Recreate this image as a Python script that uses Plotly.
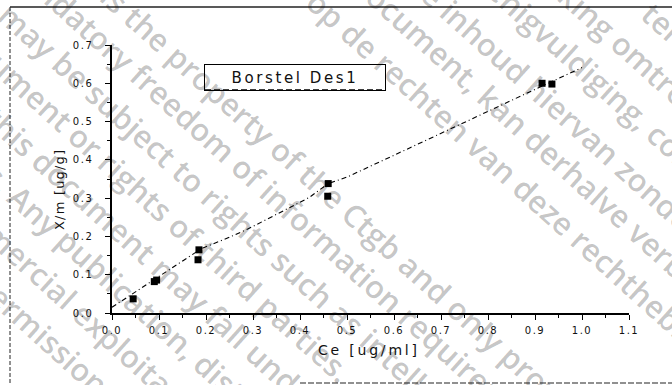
import math
import plotly.graph_objects as go

# ---------------- data ----------------
obs_ce = [0.045, 0.090, 0.095, 0.185, 0.183, 0.460, 0.459, 0.915, 0.936]
obs_xm = [0.037, 0.082, 0.086, 0.165, 0.139, 0.338, 0.305, 0.600, 0.598]

fit_ce = [0.0, 0.05, 0.10, 0.15, 0.19, 0.25, 0.29, 0.36, 0.42, 0.46, 0.50, 0.60, 0.70, 0.80, 0.90, 1.00]
fit_xm = [0.015, 0.055, 0.095, 0.135, 0.168, 0.198, 0.220, 0.264, 0.302, 0.338, 0.355, 0.412, 0.470, 0.527, 0.584, 0.641]

x_ticks = [0.0, 0.1, 0.2, 0.3, 0.4, 0.5, 0.6, 0.7, 0.8, 0.9, 1.0, 1.1]
x_labels = ["0.0", "0.1", "0.2", "0.3", "0.4", "0.5", "0.6", "0.7", "0.8", "0.9", "1.0", "1.1"]
y_ticks = [0.0, 0.1, 0.2, 0.3, 0.4, 0.5, 0.6, 0.7]
y_labels = ["0.0", "0.1", "0.2", "0.3", "0.4", "0.5", "0.6", "0.7"]

series_name = "Borstel Des1"
x_title = "Ce [ug/ml]"
y_title = "X/m [ug/g]"

# watermark lines: (text, line intercept, anchor word, anchor x in px)
wm_lines = [
    ("ter beschikking", -575, "te", 660),
    ("openbaarmaking omtrent", -517, "omtre", 637),
    ("vermenigvuldiging, commerciële exploitatie", -459, "gvuldiging", 577),
    ("van de inhoud hiervan zonder toestemming van de", -395, "hiervan", 582),
    ("dit document, kan derhalve verboden zijn.", -343, "kan", 500),
    ("op de rechten van deze rechthebbende.", -285, "eze", 555),
    ("is the property of the Ctgb and only provided", -105, "Ctgb", 383),
    ("mandatory freedom of information requirements.", -53, "freedom", 179),
    ("may be subject to rights such as intellectual property", 6, "rights", 232),
    ("document or rights of third parties.", 63, "third", 223),
    ("this document may fall under the regulatory data protection regime.", 121, "may", 170),
    ("rights. Any publication, distribution, reproduction and/or", 179, "publication", 125),
    ("commercial exploitation, distribution or use of this document", 237, "cial", 33),
    ("permission of the rightholder.", 295, "ission", 58),
]

# ---------------- layout geometry ----------------
FW, FH = 672, 385
L, R, T, B = 112, 629, 45, 313
W, H = R - L, B - T


def px(x):
    return (x - L) / W


def py(y):
    return (B - y) / H


def spaced(text, sp):
    return '<span style="letter-spacing:%spx">%s</span>' % (sp, text)


fig = go.Figure()

fig.add_trace(go.Scatter(
    x=fit_ce, y=fit_xm, mode="lines",
    line=dict(color="black", width=1.1, dash="5px,3px,1px,3px"),
    showlegend=False, hoverinfo="skip"))

fig.add_trace(go.Scatter(
    x=obs_ce, y=obs_xm, mode="markers", name=series_name,
    marker=dict(symbol="square", size=7, color="black"),
    showlegend=False))

annotations = []

# watermark (each line centred on its own diagonal)
theta = math.radians(42)
c, s = math.cos(theta), math.sin(theta)
wm_size = 31
cw = 15.0
for text, b, word, xa in wm_lines:
    along_a = xa / c
    idx = text.index(word) + len(word) / 2
    t0 = along_a - idx * cw
    tc = t0 + len(text) * cw / 2
    cx, cy = tc * c, b + tc * s
    annotations.append(dict(
        text=text, x=px(cx), y=py(cy), xref="paper", yref="paper",
        xanchor="center", yanchor="middle", textangle=42, showarrow=False,
        font=dict(family="Open Sans", size=wm_size, color="rgba(0,0,0,0.23)", weight=600)))

# legend-like label box
annotations.append(dict(
    text=spaced(series_name, 2.6), x=px(295), y=py(77), xref="paper", yref="paper",
    xanchor="center", yanchor="middle", showarrow=False,
    width=180, height=25, bordercolor="black", borderwidth=1, borderpad=0,
    font=dict(family="DejaVu Sans", size=15, color="#111")))

# axis titles
annotations.append(dict(
    text=spaced(y_title, 1.2), x=px(59), y=py(190), xref="paper", yref="paper",
    xanchor="center", yanchor="middle", textangle=-90, showarrow=False,
    font=dict(family="DejaVu Sans", size=13, color="#111")))
annotations.append(dict(
    text=spaced(x_title, 2.8), x=px(369), y=py(350), xref="paper", yref="paper",
    xanchor="center", yanchor="middle", showarrow=False,
    font=dict(family="DejaVu Sans", size=14, color="#111")))

shapes = [
    # page frame (scan border)
    dict(type="line", xref="paper", yref="paper", x0=px(10), x1=px(672), y0=py(7), y1=py(7),
         line=dict(color="#222", width=1.5)),
    dict(type="line", xref="paper", yref="paper", x0=px(10), x1=px(10), y0=py(7), y1=py(385),
         line=dict(color="#222", width=1, dash="4px,2px")),
    dict(type="line", xref="paper", yref="paper", x0=px(300), x1=px(672), y0=py(383), y1=py(383),
         line=dict(color="#222", width=1.2, dash="6px,2px")),
    # dashed lower edge of label box
    dict(type="line", xref="paper", yref="paper", x0=px(205), x1=px(385), y0=py(90), y1=py(90),
         line=dict(color="black", width=1.5, dash="6px,3px")),
]

axis_common = dict(
    showgrid=False, zeroline=False, showline=True, linecolor="black", linewidth=1.5,
    ticks="outside", ticklen=5, tickwidth=1.2, tickcolor="black",
    tickfont=dict(family="DejaVu Sans", size=10, color="#111"),
    minor=dict(ticks="outside", ticklen=3, tickwidth=1, tickcolor="black"),
)

fig.update_layout(
    width=FW, height=FH,
    margin=dict(l=L, r=FW - R, t=T, b=FH - B),
    paper_bgcolor="white", plot_bgcolor="white",
    xaxis=dict(range=[0, 1.1], tickvals=x_ticks, ticktext=[spaced(t, 1.5) for t in x_labels],
               minor_dtick=0.05, ticklabelstandoff=2, **axis_common),
    yaxis=dict(range=[0, 0.7], tickvals=y_ticks, ticktext=[spaced(t, 1.5) for t in y_labels],
               minor_dtick=0.05, ticklabelstandoff=10, **axis_common),
    annotations=annotations, shapes=shapes,
    showlegend=False,
)

fig.write_html("out.html")
